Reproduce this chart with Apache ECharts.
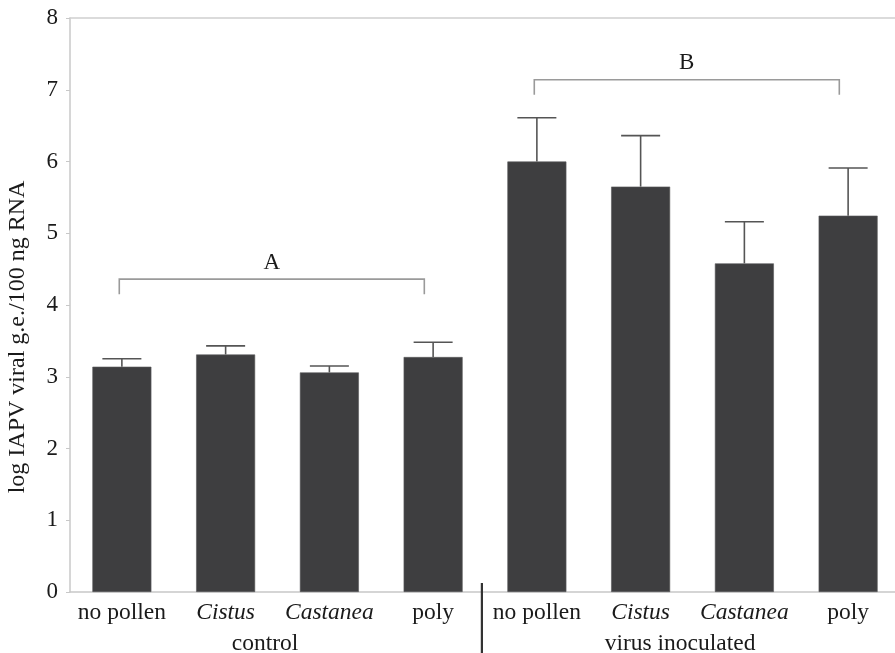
<!DOCTYPE html>
<html>
<head>
<meta charset="utf-8">
<script src="https://cdn.jsdelivr.net/npm/echarts@6/dist/echarts.min.js"></script>
<style>html,body{margin:0;padding:0;background:#fff}#c{width:895px;height:653px}</style>
</head>
<body>
<div id="c"></div>
<script>
const categories = ['no pollen','Cistus','Castanea','poly','no pollen','Cistus','Castanea','poly'];
const italicCategories = ['Cistus','Castanea'];
const means = [3.14, 3.31, 3.06, 3.275, 6.00, 5.65, 4.58, 5.245];
const errorTops = [3.25, 3.43, 3.15, 3.48, 6.61, 6.36, 5.16, 5.91];
const groupNames = ['control', 'virus inoculated'];
const groupRanges = [[0, 3], [4, 7]];
const bracketLabels = ['A', 'B'];
const bracketRanges = [[0, 3], [4, 7]];
const bracketTops = [4.36, 7.14];
const bracketDrops = [4.15, 6.93];
const yTicks = [0, 1, 2, 3, 4, 5, 6, 7, 8];
const yTitle = 'log IAPV viral g.e./100 ng RNA';

const FONT = 'Liberation Serif';
const chart = echarts.init(document.getElementById('c'));

const errData = categories.map((c, i) => [i, means[i], errorTops[i]]);
const bracketData = bracketLabels.map((l, i) => [bracketRanges[i][0], bracketRanges[i][1], bracketTops[i], bracketDrops[i], i]);
const groupData = groupNames.map((g, i) => [groupRanges[i][0], groupRanges[i][1], i]);

chart.setOption({
  animation: false,
  grid: { left: 70, top: 18, bottom: 61, width: 830, containLabel: false, outerBoundsMode: 'none' },
  graphic: [{
    type: 'text',
    x: 18,
    y: 337,
    rotation: Math.PI / 2,
    style: { text: yTitle, align: 'center', verticalAlign: 'middle', font: '24px "' + FONT + '"', fill: '#1a1a1a' }
  }],
  xAxis: [{
    type: 'category',
    data: categories,
    axisLine: { lineStyle: { color: '#c8c8c8', width: 1.5 } },
    axisTick: { show: false },
    axisLabel: {
      margin: 9,
      interval: 0,
      fontFamily: FONT,
      fontSize: 23.5,
      color: '#1a1a1a',
      formatter: v => italicCategories.includes(v) ? '{i|' + v + '}' : v,
      rich: { i: { fontStyle: 'italic', fontFamily: FONT, fontSize: 23.5, color: '#1a1a1a' } }
    }
  }, {
    type: 'category',
    position: 'top',
    data: categories,
    axisLine: { show: true, lineStyle: { color: '#d0d0d0', width: 1.5 } },
    axisTick: { show: false },
    axisLabel: { show: false }
  }],
  yAxis: {
    type: 'value',
    min: yTicks[0],
    max: yTicks[yTicks.length - 1],
    interval: 1,
    axisLine: { show: true, lineStyle: { color: '#c8c8c8', width: 1.5 } },
    axisTick: { show: true, length: 4, lineStyle: { color: '#c8c8c8' } },
    splitLine: { show: false },
    axisLabel: { margin: 12, fontFamily: FONT, fontSize: 23, color: '#1a1a1a' }
  },
  series: [{
    type: 'bar',
    data: means,
    barWidth: 59,
    itemStyle: { color: '#3e3e40', borderColor: '#5a5a5c', borderWidth: 0.6 }
  }, {
    type: 'custom',
    data: errData,
    z: 3,
    renderItem: (params, api) => {
      const x = api.value(0);
      const lo = api.coord([x, api.value(1)]);
      const hi = api.coord([x, api.value(2)]);
      const cap = 19.5;
      return {
        type: 'group',
        children: [
          { type: 'line', shape: { x1: lo[0], y1: lo[1], x2: hi[0], y2: hi[1] }, style: { stroke: '#555', lineWidth: 1.6 } },
          { type: 'line', shape: { x1: hi[0] - cap, y1: hi[1], x2: hi[0] + cap, y2: hi[1] }, style: { stroke: '#555', lineWidth: 1.6 } }
        ]
      };
    }
  }, {
    type: 'custom',
    data: bracketData,
    z: 3,
    renderItem: (params, api) => {
      const band = api.size([1, 0])[0];
      const a = api.coord([api.value(0), api.value(2)]);
      const b = api.coord([api.value(1), api.value(2)]);
      const d = api.coord([api.value(0), api.value(3)]);
      const x1 = a[0] - 0.025 * band;
      const x2 = b[0] - 0.085 * band;
      const yT = a[1], yD = d[1];
      return {
        type: 'group',
        children: [
          { type: 'polyline', shape: { points: [[x1, yD], [x1, yT], [x2, yT], [x2, yD]] }, style: { stroke: '#9a9a9a', lineWidth: 1.6, fill: null } },
          { type: 'text', style: { text: bracketLabels[api.value(4)], x: (x1 + x2) / 2, y: yT - 5, align: 'center', verticalAlign: 'bottom', font: '23px "' + FONT + '"', fill: '#1a1a1a' } }
        ]
      };
    }
  }, {
    type: 'custom',
    data: groupData,
    z: 3,
    clip: false,
    renderItem: (params, api) => {
      const band = api.size([1, 0])[0];
      const s = api.coord([api.value(0), 0]);
      const e = api.coord([api.value(1), 0]);
      const cx = (s[0] + e[0]) / 2 - 0.12 * band;
      const children = [
        { type: 'text', style: { text: groupNames[api.value(2)], x: cx, y: s[1] + 52, align: 'center', verticalAlign: 'middle', font: '23.5px "' + FONT + '"', fill: '#1a1a1a' } }
      ];
      if (api.value(2) > 0) {
        const dx = s[0] - 0.53 * band;
        children.push({ type: 'line', shape: { x1: dx, y1: s[1] - 9, x2: dx, y2: s[1] + 70 }, style: { stroke: '#333', lineWidth: 2.2 } });
      }
      return { type: 'group', children };
    }
  }]
});
</script>
</body>
</html>
